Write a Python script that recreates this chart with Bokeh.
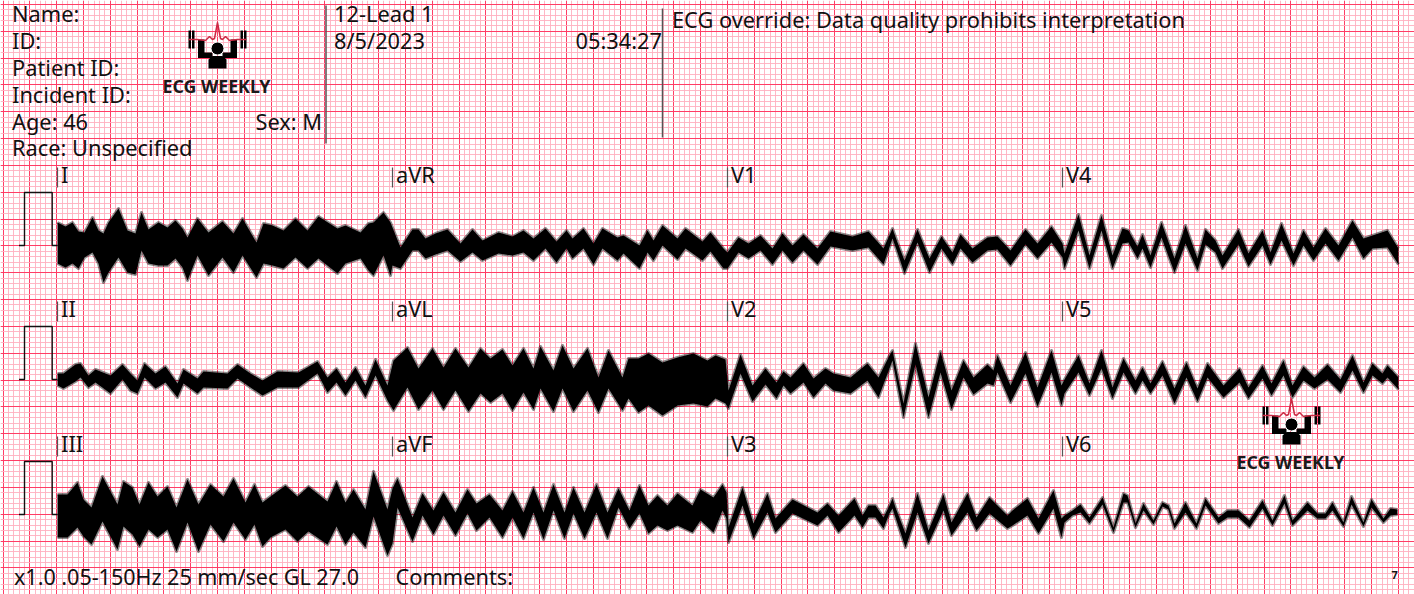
from bokeh.core.properties import value
from bokeh.embed import file_html
from bokeh.models import FixedTicker, Grid, Range1d
from bokeh.plotting import figure
from bokeh.resources import INLINE

# Trace envelopes: sample position within the lead (s),
# upper and lower edge of the noisy trace (counts above the lead's baseline).
I_S = [0,8,15,21,27,35,41,46,51,61,70,78,84,91,101,110,118,125,130,140,151,165,176,185,199,206,215,226,238,250,261,280,288,303,311,316,326,333]
I_HI = [23,19,23,14,13,28,15,12,23,37,15,12,33,16,23,18,25,17,8,27,13,24,12,27,3,22,20,15,27,15,29,17,20,13,22,23,33,23]
I_LO = [-18,-22,-18,-23,-12,-7,-18,-37,-27,-12,-27,-29,-5,-18,-20,-20,-13,-22,-35,-10,-30,-12,-27,-10,-32,-18,-20,-23,-12,-23,-13,-28,-18,-13,-25,-30,-10,-30]

AVR_S = [0,8,20,26,33,43,55,68,80,90,106,120,131,141,153,164,174,180,191,201,210,225,231,247,255,261,270,285,293,310,318,331]
AVR_HI = [18,-2,16,16,7,12,16,2,16,5,13,9,15,7,17,4,15,7,17,2,17,8,10,0,15,5,20,7,17,4,13,-3]
AVR_LO = [-20,-23,-5,-5,-13,-9,-5,-16,-7,-15,-8,-10,-7,-15,-3,-17,-3,-13,-3,-19,-3,-15,-8,-23,-7,-15,0,-14,-3,-15,-6,-23]

V1_S = [0,11,21,33,45,55,65,76,90,103,125,141,156,165,170,177,190,202,214,225,233,245,260,270,283,298,310,324,335]
V1_HI = [-7,8,2,10,-3,12,0,11,-3,14,9,14,-3,17,3,-15,16,-13,9,-7,11,-3,8,9,-5,16,2,19,2]
V1_LO = [-23,-7,-13,-5,-19,-5,-17,-5,-19,-1,-5,-2,-19,7,-7,-28,3,-27,-3,-19,-3,-17,-5,-4,-20,1,-13,3,-12]

V4_S = [2,16,27,39,50,60,66,75,80,88,99,112,123,135,143,153,160,176,186,200,208,219,231,241,251,263,276,290,301,310,325,336]
V4_HI = [-8,31,-10,30,-10,17,15,-1,11,-10,23,-13,20,-13,16,5,-10,16,-8,15,-7,22,-8,15,-2,17,0,25,7,10,15,-3]
V4_LO = [-23,15,-23,15,-23,2,3,-13,-3,-22,8,-27,2,-25,1,-7,-23,1,-21,0,-19,5,-20,0,-15,2,-15,8,-13,-3,-2,-19]

II_S = [0,6,18,23,31,38,53,65,73,80,87,98,108,120,126,140,146,170,180,193,205,220,241,260,270,279,288,298,308,318,330]
II_HI = [6,6,15,16,4,10,4,15,6,-1,16,6,13,-4,10,1,8,6,15,6,-1,8,7,18,2,11,-3,12,-6,20,-6]
II_LO = [-6,-9,-2,2,-8,-3,-14,0,-11,-14,2,-9,-3,-18,-4,-14,-8,-9,1,-8,-16,-8,-8,6,-13,-3,-16,-1,-18,4,-21]

AVL_S = [1,15,26,40,51,63,76,88,98,110,120,131,141,148,161,170,181,195,206,216,230,236,246,256,270,285,301,315,323,333]
AVL_HI = [19,32,11,31,12,31,12,31,21,30,14,31,11,33,9,34,11,31,2,29,2,21,21,26,17,22,26,19,24,20]
AVL_LO = [-31,-8,-30,-11,-30,-11,-32,-14,-23,-14,-31,-13,-30,-9,-32,-9,-32,-11,-33,-9,-31,-19,-33,-26,-36,-26,-24,-27,-19,-24]

V2_S = [1,13,25,38,49,56,63,76,86,98,106,123,140,151,162,165,176,188,201,213,224,236,246,260,266,270,283,298,310,324,334]
V2_HI = [-11,25,-6,11,-3,8,2,16,1,11,6,2,16,2,24,29,-24,36,-18,28,-11,19,2,15,9,24,-6,27,-8,29,-6]
V2_LO = [-29,6,-22,-5,-19,-6,-14,-3,-18,-4,-11,-14,-1,-18,11,19,-38,15,-38,7,-30,2,-15,-4,-6,7,-23,6,-27,7,-26]

V5_S = [2,16,27,39,50,61,73,80,88,100,112,124,135,145,161,177,186,200,209,221,230,241,252,265,278,290,301,310,320,325,336]
V5_HI = [0,24,-4,29,-8,21,-1,12,-4,18,-9,17,-9,16,-6,11,-8,14,-4,19,-6,13,2,15,0,24,-3,16,6,14,2]
V5_LO = [-14,7,-16,11,-19,7,-14,-1,-14,4,-24,2,-22,2,-18,-3,-19,1,-16,4,-18,-1,-9,0,-13,9,-13,4,-4,2,-10]

III_S = [0,10,20,26,34,45,60,66,75,82,91,100,110,119,130,141,153,166,176,188,197,205,213,228,240,251,270,279,288,296,308,316,330]
III_HI = [20,20,32,15,7,38,10,33,27,10,32,18,28,7,35,10,30,18,36,12,30,12,18,29,18,28,13,33,12,25,5,43,5]
III_LO = [-23,-23,-13,-22,-30,-7,-35,-12,-20,-32,-15,-23,-15,-37,-8,-37,-10,-27,-8,-25,-10,-32,-23,-15,-27,-17,-30,-12,-30,-18,-33,-2,-41]

AVF_S = [0,5,20,30,41,51,63,75,84,97,110,120,131,141,151,161,172,181,192,204,215,226,237,247,256,265,275,285,300,308,321,330,334]
AVF_HI = [26,36,-3,21,4,22,2,25,11,20,4,23,2,27,2,30,2,27,2,30,2,26,4,29,9,19,9,21,9,25,17,30,22]
AVF_LO = [-29,7,-27,-1,-20,-1,-21,1,-16,-3,-23,-3,-24,2,-25,4,-24,1,-24,2,-24,7,-14,1,-19,-11,-16,-11,-18,-6,-18,4,-4]

V3_S = [1,15,26,40,48,65,90,100,111,127,135,141,148,156,162,165,168,178,190,201,216,224,240,249,262,268,280,285,300,311,326,334]
V3_HI = [-13,27,-9,21,-4,15,2,11,-1,16,-1,9,9,-3,9,16,7,-19,21,-16,20,-8,21,-3,17,11,-1,4,16,-4,24,-4]
V3_LO = [-28,9,-24,2,-18,1,-11,-1,-18,-1,-13,-3,-3,-14,1,6,-3,-33,2,-29,4,-21,2,-16,1,-4,-14,-11,-1,-19,6,-23]

V6_S = [2,10,18,27,40,51,61,65,73,81,91,100,106,112,123,134,143,156,165,176,187,200,210,222,230,245,255,263,270,281,289,301,309,321,328,335]
V6_HI = [-1,4,10,-3,17,-13,21,19,-9,11,-6,12,9,-9,12,-9,16,-3,4,4,-6,14,-6,19,-6,12,1,1,12,-8,18,-8,15,-4,6,5]
V6_LO = [-8,-1,2,-9,10,-18,12,12,-13,4,-10,8,5,-14,2,-14,9,-9,-3,-3,-13,6,-11,11,-11,4,-4,-4,4,-12,10,-12,7,-8,-1,0]

ROWS = [
    ("I", I_S, I_HI, I_LO, "aVR", AVR_S, AVR_HI, AVR_LO, "V1", V1_S, V1_HI, V1_LO, "V4", V4_S, V4_HI, V4_LO),
    ("II", II_S, II_HI, II_LO, "aVL", AVL_S, AVL_HI, AVL_LO, "V2", V2_S, V2_HI, V2_LO, "V5", V5_S, V5_HI, V5_LO),
    ("III", III_S, III_HI, III_LO, "aVF", AVF_S, AVF_HI, AVF_LO, "V3", V3_S, V3_HI, V3_LO, "V6", V6_S, V6_HI, V6_LO),
]

HEADER_TEXT = ["Name:", "ID:", "Patient ID:", "Incident ID:", "Age: 46", "Sex: M", "Race: Unspecified",
               "12-Lead 1", "8/5/2023", "05:34:27", "ECG override: Data quality prohibits interpretation",
               "Comments:"]
HEADER_X = [11.5, 11.5, 11.5, 11.5, 11.5, 255, 11.5, 333.5, 333.5, 575, 671.5, 395]
HEADER_Y = [13, 40, 67, 94, 121, 121, 147, 13, 40, 40, 19, 576]
FOOTER_TEXT = ["x1.0 .05-150Hz 25 mm/sec GL 27.0"]

FONT = "Noto Sans"
W, H = 1414, 594
p = figure(width=W, height=H, output_backend="svg", toolbar_location=None,
           x_range=Range1d(0, W), y_range=Range1d(H, 0),
           min_border=0, outline_line_color=None, background_fill_color="white",
           border_fill_color="white", x_axis_type=None, y_axis_type=None)
p.styles = {"position": "absolute", "left": "0px", "top": "0px"}
p.grid.visible = False

# ECG paper
GX0, GY0, MAJOR = 2.5, 4.0, 26.83
def ticks(start, stop, step):
    out, v = [], start
    while v <= stop:
        out.append(v)
        v += step
    return out
for dim, start, stop in ((0, GX0, W), (1, GY0, H)):
    g = Grid(dimension=dim,
             ticker=FixedTicker(ticks=ticks(start, stop, MAJOR), minor_ticks=ticks(start, stop, MAJOR / 5)),
             grid_line_color="#ff3d66", grid_line_width=1,
             minor_grid_line_color="#ffb0c0", minor_grid_line_width=0.9)
    p.add_layout(g)

# traces
STARTS = [57, 392, 727, 1062]
BASE = [245, 379, 514]
for base, row in zip(BASE, ROWS):
    xs, hi, lo = [], [], []
    for i, start in enumerate(STARTS):
        name, s, h, l = row[i * 4:(i + 1) * 4]
        xs += [start + v for v in s]
        hi += [base - v for v in h]
        lo += [base - v for v in l]
        # lead label and its tick
        p.segment(start, base - 78, start, base - 58, line_color="#555555", line_width=1.2)
        p.text([start + 3.5], [base - 71], text=[name], text_font=value(FONT), text_font_size="21.8px",
               text_color="#111111", text_baseline="middle")
    p.varea(x=xs, y1=hi, y2=lo, fill_color="black")
    p.line(xs, hi, line_color="black", line_alpha=0.45, line_width=3, line_join="round")
    p.line(xs, lo, line_color="black", line_alpha=0.45, line_width=3, line_join="round")
    # calibration pulse
    p.line([18.5, 24, 24, 51.7, 51.7, 57], [base, base, base - 53, base - 53, base, base],
           line_color="#111111", line_width=1.4)

# header rules
p.segment([325.5, 662], [5, 8], [325.5, 662], [143, 137], line_color="#555555", line_width=1.5)

p.text(HEADER_X, HEADER_Y, text=HEADER_TEXT, text_font=value(FONT), text_font_size="21.8px",
       text_color="#111111", text_baseline="middle")
p.text([13.5], [576], text=FOOTER_TEXT, text_font=value(FONT), text_font_size="21.5px",
       text_color="#111111", text_baseline="middle")
p.text([1391], [574], text=["7"], text_font=value(FONT), text_font_size="11px", text_font_style="bold",
       text_color="#111111", text_baseline="middle")

# logo
def logo(cx, dy, label_x):
    y = lambda v: v + dy
    for x0, x1 in ((-29, -26.5), (-25.5, -23), (23, 25.5), (26.5, 29)):
        p.quad(left=[cx + x0], right=[cx + x1], top=[y(30)], bottom=[y(48)], fill_color="black", line_color=None)
    for a0, a1 in ((-19.5, -13), (13, 19.5)):
        p.quad(left=[cx + a0], right=[cx + a1], top=[y(39)], bottom=[y(57)], fill_color="black", line_color=None)
    for a0, a1 in ((-19.5, -5), (5, 19.5)):
        p.quad(left=[cx + a0], right=[cx + a1], top=[y(52)], bottom=[y(57.5)], fill_color="black", line_color=None)
    p.patch([cx - 9, cx - 9, cx - 5, cx + 5, cx + 9, cx + 9],
            [y(68), y(59), y(55.5), y(55.5), y(59), y(68)], fill_color="black", line_color=None)
    p.circle([cx], [y(48)], radius=6.5, fill_color="black", line_color="white", line_width=1)
    p.line([cx + v for v in (-29, -20, -12, -8, -5, -3, 0, 3, 5, 8, 12, 20, 29)],
           [y(v) for v in (39, 39, 40, 36, 39, 38, 22, 38, 39, 36, 40, 39, 39)],
           line_color="#cc2a44", line_width=1.5)
    p.text([label_x], [y(85.5)], text=["ECG WEEKLY"], text_font=value(FONT), text_font_size="17.8px",
           text_font_style="bold", text_color="#1a1a1a", text_baseline="middle")

logo(217, 0, 162)
logo(1291, 376, 1236)

open("out.html", "w").write(file_html(p, INLINE))
